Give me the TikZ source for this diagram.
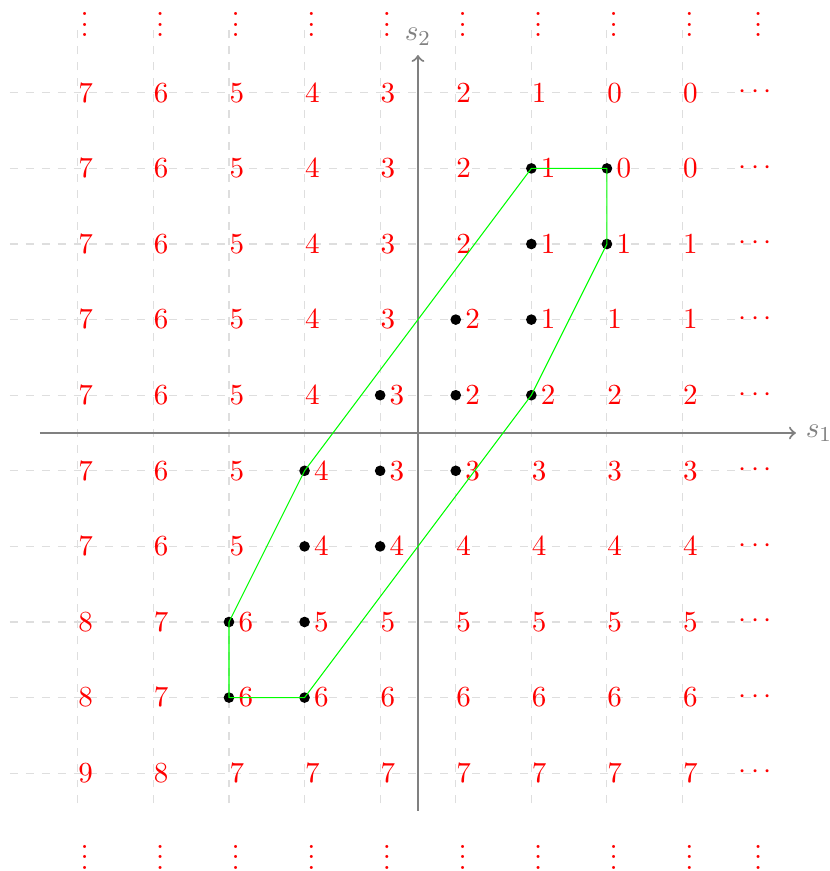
\documentclass[tikz,border=0pt]{standalone}
\newcommand\colvdots{\vbox{\baselineskip4pt \lineskiplimit0pt \hbox{.}\hbox{.}\hbox{.}}}
\begin{document}
\begin{tikzpicture}[
  every node/.style={font=\fontsize{10.95}{13.6}\selectfont},
  gridline/.style={dashed, black!13, line width=0.4pt},
  axisline/.style={gray, thick, ->},
  axislabel/.style={text=gray},
  num/.style={text=red, anchor=west, inner sep=0pt},
  dotlabel/.style={text=red, anchor=west, inner sep=0pt, xshift=3.4pt},
  ellip/.style={text=red, anchor=base, inner sep=0pt},
  vellip/.style={text=red, anchor=center, inner sep=0pt},
  hull/.style={green, line width=0.4pt, line join=round}
]
\useasboundingbox (-5.529,-5.794) rectangle (5.450,5.728);

% dashed grid
\foreach \x [count=\k] in {-4.5,-3.5,...,3.5}
  \draw[gridline] (\x,-4.9) -- (\x,5.33);
\foreach \y in {-4.5,-3.5,...,4.5}
  \draw[gridline] (-5.4,\y) -- (4.4,\y);

% axes
\coordinate (xa) at (-5,0);
\coordinate (xb) at (5,0);
\coordinate (ya) at (0,-5);
\coordinate (yb) at (0,5);
\draw[axisline] (xa) -- (xb) node[axislabel, right] (s1) {$s_1$};
\draw[axisline] (ya) -- (yb) node[axislabel, above] (s2) {$s_2$};

% values
\foreach \y/\row [count=\r] in {
  4.5/{7/0,6/0,5/0,4/0,3/0,2/0,1/0,0/0,0/0},
  3.5/{7/0,6/0,5/0,4/0,3/0,2/0,1/1,0/1,0/0},
  2.5/{7/0,6/0,5/0,4/0,3/0,2/0,1/1,1/1,1/0},
  1.5/{7/0,6/0,5/0,4/0,3/0,2/1,1/1,1/0,1/0},
  0.5/{7/0,6/0,5/0,4/0,3/1,2/1,2/1,2/0,2/0},
  -0.5/{7/0,6/0,5/0,4/1,3/1,3/1,3/0,3/0,3/0},
  -1.5/{7/0,6/0,5/0,4/1,4/1,4/0,4/0,4/0,4/0},
  -2.5/{8/0,7/0,6/1,5/1,5/0,5/0,5/0,5/0,5/0},
  -3.5/{8/0,7/0,6/1,6/1,6/0,6/0,6/0,6/0,6/0},
  -4.5/{9/0,8/0,7/0,7/0,7/0,7/0,7/0,7/0,7/0}} {
  \foreach \v/\d [count=\i] in \row {
    \pgfmathsetmacro{\x}{-5.5+\i}
    \coordinate (c-\r-\i) at (\x,\y);
    \ifnum\d=1
      \fill (c-\r-\i) circle (2pt);
      \node[dotlabel] (n-\r-\i) at (c-\r-\i) {$\v$};
    \else
      \node[num] (n-\r-\i) at (c-\r-\i) {$\v$};
    \fi
  }
  \node[ellip] (h-\r) at ([yshift=-2.75pt]4.46,\y+0.02) {$\cdots$};
}

% vertical ellipses
\foreach \x [count=\k] in {-4.41,-3.41,-2.41,-1.41,-0.41,0.59,1.59,2.59,3.59,4.5} {
  \node[vellip] (vt-\k) at (\x,5.40) {\colvdots};
  \node[vellip] (vb-\k) at (\x,-5.61) {\colvdots};
}

% hull
\draw[hull] (c-2-7) -- (c-2-8) -- (c-3-8) -- (c-5-7) -- (c-9-4) -- (c-9-3) -- (c-8-3) -- (c-6-4) -- cycle;
\end{tikzpicture}
\end{document}
